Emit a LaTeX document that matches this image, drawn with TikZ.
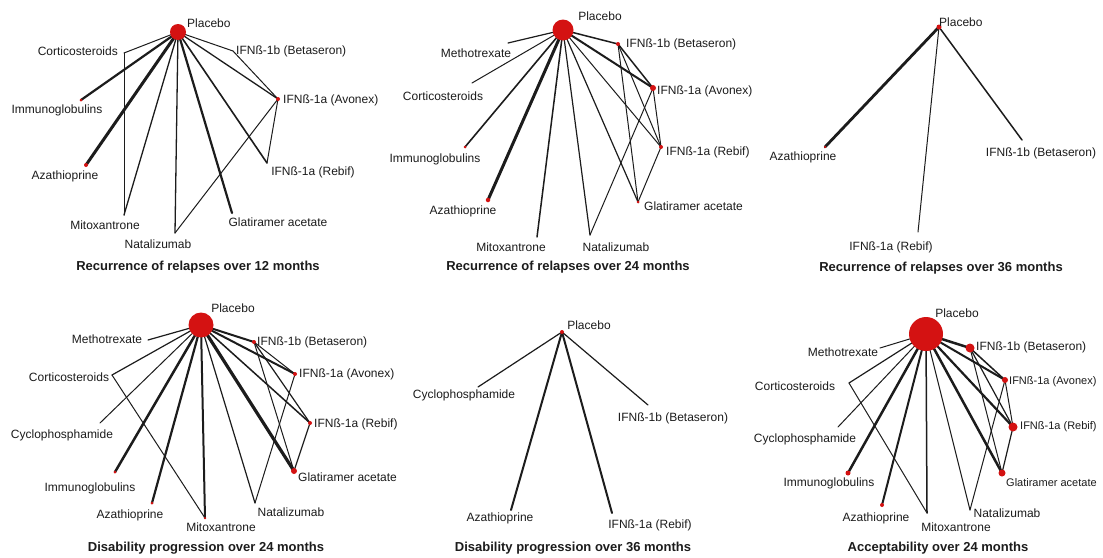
\documentclass[tikz,border=0pt]{standalone}
\usepackage{fontspec}
\setmainfont{Liberation Sans}
\definecolor{nred}{RGB}{212,18,18}
\definecolor{ink}{RGB}{28,28,28}
\newcommand\myedge[3]{\draw[line width=#1pt] (#2) -- (#3);}
\begin{document}
\begin{tikzpicture}[x=1pt,y=-1pt,
  lbl/.style={font=\fontsize{12}{14}\selectfont, text=ink, inner sep=0pt},
  lbs/.style={font=\fontsize{11}{13}\selectfont, text=ink, inner sep=0pt},
  ttl/.style={font=\bfseries\fontsize{13}{15}\selectfont, text=ink, inner sep=0pt},
  dot/.style={circle, fill=nred, inner sep=0pt, minimum size=#1},
  line cap=round, draw=ink]
\useasboundingbox[fill=white] (0,0) rectangle (1103,557);

% ================= Panel 1 =================
\coordinate (aP) at (178,32);
\coordinate (aCo) at (124,53);
\coordinate (aIm) at (81,100);
\coordinate (aAz) at (86,165);
\coordinate (aMi) at (124,215);
\coordinate (aNa) at (175,233);
\coordinate (aGl) at (232,213);
\coordinate (aRe) at (267,163);
\coordinate (aAv) at (278,99);
\coordinate (aBe) at (233,51);
\myedge{1}{aP}{aCo}
\myedge{2.2}{aP}{aIm}
\myedge{3}{aP}{aAz}
\myedge{1.3}{aP}{aMi}
\myedge{1.3}{aP}{aNa}
\myedge{2.2}{aP}{aGl}
\myedge{1.6}{aP}{aRe}
\myedge{1.3}{aP}{aAv}
\myedge{1}{aP}{aBe}
\myedge{1}{aCo}{aMi}
\myedge{1}{aBe}{aAv}
\myedge{1}{aAv}{aRe}
\myedge{1}{aAv}{aNa}
\node[dot=16pt] (aPd) at (aP) {};
\node[dot=3pt] (aImd) at (aIm) {};
\node[dot=4pt] (aAzd) at (aAz) {};
\node[dot=4pt] (aAvd) at (aAv) {};
\node[lbl,anchor=west] (aPl) at (187,23) {Placebo};
\node[lbl,anchor=east] (aCol) at (118,51) {Corticosteroids};
\node[lbl] (aIml) at (57,110) {Immunoglobulins};
\node[lbl] (aAzl) at (65,176) {Azathioprine};
\node[lbl] (aMil) at (105,225) {Mitoxantrone};
\node[lbl] (aNal) at (158,244) {Natalizumab};
\node[lbl] (aGll) at (278,222) {Glatiramer acetate};
\node[lbl] (aRel) at (313,172) {IFNß-1a (Rebif)};
\node[lbl,anchor=west] (aAvl) at (283,100) {IFNß-1a (Avonex)};
\node[lbl,anchor=west] (aBel) at (236,51) {IFNß-1b (Betaseron)};
\node[ttl] (aT) at (198,267) {Recurrence of relapses over 12 months};

% ================= Panel 2 =================
\coordinate (bP) at (563,30);
\coordinate (bMe) at (508,43);
\coordinate (bCo) at (472,83);
\coordinate (bIm) at (465,147);
\coordinate (bAz) at (488,200);
\coordinate (bMi) at (537,237);
\coordinate (bNa) at (590,235);
\coordinate (bGl) at (638,202);
\coordinate (bRe) at (661,147);
\coordinate (bAv) at (653,88);
\coordinate (bBe) at (618,44);
\myedge{1.2}{bP}{bMe}
\myedge{1}{bP}{bCo}
\myedge{1.6}{bP}{bIm}
\myedge{3}{bP}{bAz}
\myedge{1.5}{bP}{bMi}
\myedge{1.2}{bP}{bNa}
\myedge{1.2}{bP}{bGl}
\myedge{1}{bP}{bRe}
\myedge{2}{bP}{bAv}
\myedge{1.5}{bP}{bBe}
\myedge{1.5}{bBe}{bAv}
\myedge{1}{bBe}{bRe}
\myedge{1}{bBe}{bGl}
\myedge{1}{bAv}{bRe}
\myedge{1}{bAv}{bNa}
\myedge{1}{bRe}{bGl}
\node[dot=21pt] (bPd) at (bP) {};
\node[dot=3pt] (bImd) at (bIm) {};
\node[dot=4.5pt] (bAzd) at (bAz) {};
\node[dot=3pt] (bGld) at (bGl) {};
\node[dot=4pt] (bRed) at (bRe) {};
\node[dot=6pt] (bAvd) at (bAv) {};
\node[dot=4pt] (bBed) at (bBe) {};
\node[lbl] (bPl) at (600,16) {Placebo};
\node[lbl] (bMel) at (476,53) {Methotrexate};
\node[lbl] (bCol) at (443,96) {Corticosteroids};
\node[lbl] (bIml) at (435,159) {Immunoglobulins};
\node[lbl] (bAzl) at (463,211) {Azathioprine};
\node[lbl] (bMil) at (511,247) {Mitoxantrone};
\node[lbl] (bNal) at (616,247) {Natalizumab};
\node[lbl,anchor=west] (bGll) at (644,206) {Glatiramer acetate};
\node[lbl,anchor=west] (bRel) at (666,152) {IFNß-1a (Rebif)};
\node[lbl,anchor=west] (bAvl) at (657,91) {IFNß-1a (Avonex)};
\node[lbl,anchor=west] (bBel) at (626,44) {IFNß-1b (Betaseron)};
\node[ttl] (bT) at (568,267) {Recurrence of relapses over 24 months};

% ================= Panel 3 =================
\coordinate (cP) at (939,27);
\coordinate (cAz) at (825,147);
\coordinate (cRe) at (918,232);
\coordinate (cBe) at (1022,140);
\myedge{2.8}{cP}{cAz}
\myedge{1}{cP}{cRe}
\myedge{1.5}{cP}{cBe}
\node[dot=5pt] (cPd) at (cP) {};
\node[dot=2.5pt] (cAzd) at (cAz) {};
\node[lbl,anchor=west] (cPl) at (939,22) {Placebo};
\node[lbl] (cAzl) at (803,157) {Azathioprine};
\node[lbl] (cRel) at (891,247) {IFNß-1a (Rebif)};
\node[lbl] (cBel) at (1041,153) {IFNß-1b (Betaseron)};
\node[ttl] (cT) at (941,268) {Recurrence of relapses over 36 months};

% ================= Panel 4 =================
\coordinate (dP) at (201,325);
\coordinate (dMe) at (148,340);
\coordinate (dCo) at (112,375);
\coordinate (dCy) at (100,423);
\coordinate (dIm) at (115,472);
\coordinate (dAz) at (152,503);
\coordinate (dMi) at (205,518);
\coordinate (dNa) at (255,503);
\coordinate (dGl) at (294,471);
\coordinate (dRe) at (310,423);
\coordinate (dAv) at (295,374);
\coordinate (dBe) at (254,342);
\myedge{1.2}{dP}{dMe}
\myedge{1.2}{dP}{dCo}
\myedge{1}{dP}{dCy}
\myedge{2.5}{dP}{dIm}
\myedge{2.2}{dP}{dAz}
\myedge{2}{dP}{dMi}
\myedge{1.2}{dP}{dNa}
\myedge{3.2}{dP}{dGl}
\myedge{1.5}{dP}{dRe}
\myedge{2}{dP}{dAv}
\myedge{2}{dP}{dBe}
\myedge{1}{dCo}{dMi}
\myedge{1}{dBe}{dAv}
\myedge{1.2}{dBe}{dRe}
\myedge{1}{dBe}{dGl}
\myedge{1.2}{dRe}{dGl}
\myedge{1}{dAv}{dNa}
\node[dot=25pt] (dPd) at (dP) {};
\node[dot=3pt] (dImd) at (dIm) {};
\node[dot=3pt] (dAzd) at (dAz) {};
\node[dot=2.5pt] (dMid) at (dMi) {};
\node[dot=6pt] (dGld) at (dGl) {};
\node[dot=4pt] (dRed) at (dRe) {};
\node[dot=4pt] (dAvd) at (dAv) {};
\node[dot=4pt] (dBed) at (dBe) {};
\node[lbl] (dPl) at (233,308) {Placebo};
\node[lbl] (dMel) at (107,339) {Methotrexate};
\node[lbl] (dCol) at (69,377) {Corticosteroids};
\node[lbl] (dCyl) at (62,435) {Cyclophosphamide};
\node[lbl] (dIml) at (90,488) {Immunoglobulins};
\node[lbl] (dAzl) at (130,515) {Azathioprine};
\node[lbl] (dMil) at (221,527) {Mitoxantrone};
\node[lbl] (dNal) at (291,512) {Natalizumab};
\node[lbl,anchor=west] (dGll) at (298,477) {Glatiramer acetate};
\node[lbl,anchor=west] (dRel) at (314,424) {IFNß-1a (Rebif)};
\node[lbl,anchor=west] (dAvl) at (299,374) {IFNß-1a (Avonex)};
\node[lbl,anchor=west] (dBel) at (257,342) {IFNß-1b (Betaseron)};
\node[ttl] (dT) at (206,548) {Disability progression over 24 months};

% ================= Panel 5 =================
\coordinate (eP) at (562,332);
\coordinate (eCy) at (478,387);
\coordinate (eBe) at (648,405);
\coordinate (eAz) at (511,510);
\coordinate (eRe) at (612,513);
\myedge{1.2}{eP}{eCy}
\myedge{1.2}{eP}{eBe}
\myedge{2}{eP}{eAz}
\myedge{2}{eP}{eRe}
\node[dot=4pt] (ePd) at (eP) {};
\node[lbl] (ePl) at (589,325) {Placebo};
\node[lbl] (eCyl) at (464,395) {Cyclophosphamide};
\node[lbl] (eBel) at (673,418) {IFNß-1b (Betaseron)};
\node[lbl] (eAzl) at (500,518) {Azathioprine};
\node[lbl] (eRel) at (650,525) {IFNß-1a (Rebif)};
\node[ttl] (eT) at (573,548) {Disability progression over 36 months};

% ================= Panel 6 =================
\coordinate (fP) at (926,334);
\coordinate (fMe) at (880,348);
\coordinate (fCo) at (849,383);
\coordinate (fCy) at (838,427);
\coordinate (fIm) at (848,473);
\coordinate (fAz) at (882,505);
\coordinate (fMi) at (927,513);
\coordinate (fNa) at (970,510);
\coordinate (fGl) at (1002,473);
\coordinate (fRe) at (1013,427);
\coordinate (fAv) at (1005,380);
\coordinate (fBe) at (970,348);
\myedge{1}{fP}{fMe}
\myedge{1.2}{fP}{fCo}
\myedge{1}{fP}{fCy}
\myedge{2.5}{fP}{fIm}
\myedge{2}{fP}{fAz}
\myedge{1.5}{fP}{fMi}
\myedge{1}{fP}{fNa}
\myedge{2.5}{fP}{fGl}
\myedge{2.2}{fP}{fRe}
\myedge{2}{fP}{fAv}
\myedge{2.5}{fP}{fBe}
\myedge{1}{fCo}{fMi}
\myedge{1.5}{fBe}{fAv}
\myedge{1.2}{fBe}{fRe}
\myedge{1}{fBe}{fGl}
\myedge{1}{fAv}{fRe}
\myedge{1}{fAv}{fNa}
\myedge{1.2}{fRe}{fGl}
\node[dot=34pt] (fPd) at (fP) {};
\node[dot=5pt] (fImd) at (fIm) {};
\node[dot=4pt] (fAzd) at (fAz) {};
\node[dot=7pt] (fGld) at (fGl) {};
\node[dot=9pt] (fRed) at (fRe) {};
\node[dot=6pt] (fAvd) at (fAv) {};
\node[dot=9pt] (fBed) at (fBe) {};
\node[lbl] (fPl) at (957,313) {Placebo};
\node[lbl] (fMel) at (843,352) {Methotrexate};
\node[lbl] (fCol) at (795,386) {Corticosteroids};
\node[lbl] (fCyl) at (805,439) {Cyclophosphamide};
\node[lbl] (fIml) at (829,483) {Immunoglobulins};
\node[lbl] (fAzl) at (876,518) {Azathioprine};
\node[lbl] (fMil) at (956,527) {Mitoxantrone};
\node[lbl] (fNal) at (1007,513) {Natalizumab};
\node[lbs,anchor=west] (fGll) at (1006,483) {Glatiramer acetate};
\node[lbs,anchor=west] (fRel) at (1020,427) {IFNß-1a (Rebif)};
\node[lbs,anchor=west] (fAvl) at (1009,382) {IFNß-1a (Avonex)};
\node[lbl,anchor=west] (fBel) at (976,347) {IFNß-1b (Betaseron)};
\node[ttl] (fT) at (938,548) {Acceptability over 24 months};
\end{tikzpicture}
\end{document}
